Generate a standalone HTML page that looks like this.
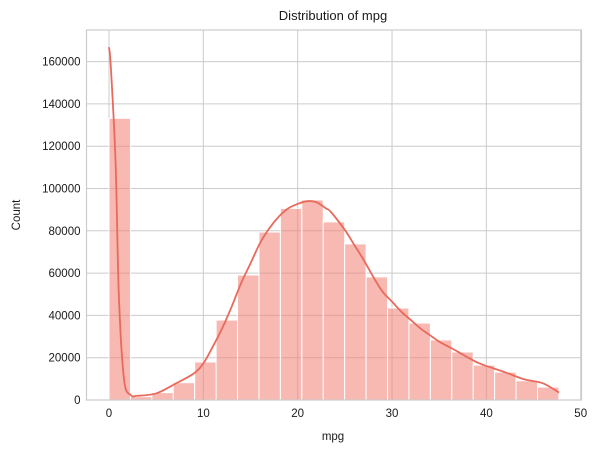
<!DOCTYPE html>
<html><head><meta charset="utf-8"><style>
body{margin:0;background:#fff;}
svg{display:block;font-family:"Liberation Sans","DejaVu Sans",sans-serif;}
</style></head><body>
<svg id="chart" width="598" height="453" viewBox="0 0 598 453">
<rect width="598" height="453" fill="#fff"/>
<g id="grid"></g><g id="bars"></g><g id="kde"></g><g id="axes"></g>
<text x="333" y="20" text-anchor="middle" font-size="13" fill="#1a1a1a">Distribution of mpg</text>
<text x="333" y="440" text-anchor="middle" font-size="11.5" fill="#1a1a1a">mpg</text>
<text transform="translate(20,215) rotate(-90)" text-anchor="middle" font-size="11.5" fill="#1a1a1a">Count</text>
</svg>
<script>
const binWidth = 2.271;
const counts = [133200,1600,3500,8200,18000,37800,59100,79400,90600,94600,84200,73800,58200,43500,36400,28400,22700,16500,13200,9100,6100];
const kdeX = [0,0.2,0.7,1.05,1.6,2.3,3,5,7,9,10,11,12,13,14,15,16,17,18,19,20,21,22,23,23.5,25,26,27,28,29,30,31,32,33,34,35,36,37,38,39,40,42,44,46,47.7];
const kdeY = [166800,157000,112000,48800,9500,2400,2000,3100,7600,12600,17300,25200,33900,44100,55200,64600,74100,81200,86700,90600,92700,94000,93500,90600,89000,80400,73300,66200,58300,51200,46500,41700,37800,33900,30700,27600,25200,22800,20200,17800,16100,13100,9800,7900,3500];
const xTicks = [0,10,20,30,40,50];
const yTicks = [0,20000,40000,60000,80000,100000,120000,140000,160000];

const L=86.5,R=581.5,T=30,B=400;
const x0=-2.385,x1=50.085;
const sx=v=>L+(v-x0)/(x1-x0)*(R-L);
const sy=v=>B-v/20000*42.3;
const NS='http://www.w3.org/2000/svg';
function mk(tag,attrs,parent){const e=document.createElementNS(NS,tag);for(const k in attrs)e.setAttribute(k,attrs[k]);parent.appendChild(e);return e;}
const grid=document.getElementById('grid'),bars=document.getElementById('bars'),kde=document.getElementById('kde'),axes=document.getElementById('axes');
xTicks.forEach(t=>{
  const l=mk('line',{x1:sx(t),x2:sx(t),y1:T,y2:B,stroke:'#cccccc','stroke-width':1},grid);
  
  
  const tx=mk('text',{x:sx(t),y:B+17,'text-anchor':'middle','font-size':11.5,fill:'#1a1a1a'},axes);
  tx.textContent=t;
  
  
});
yTicks.forEach(t=>{
  const l=mk('line',{x1:L,x2:R,y1:sy(t),y2:sy(t),stroke:'#cccccc','stroke-width':1},grid);
  
  
  const tx=mk('text',{x:L-6,y:sy(t)+4,'text-anchor':'end','font-size':11.5,fill:'#1a1a1a'},axes);
  tx.textContent=t;
  
  
});
counts.forEach((c,i)=>{
  const xa=sx(i*binWidth),xb=sx((i+1)*binWidth);
  const r=mk('rect',{x:xa,y:sy(c),width:xb-xa,height:B-sy(c),fill:'rgba(240,128,114,0.55)',stroke:'#fff','stroke-width':1},bars);
  
  
});
const pts=kdeX.map((v,i)=>[sx(v),sy(kdeY[i])]);
let d='M'+pts[0][0]+','+pts[0][1];
for(let i=0;i<pts.length-1;i++){
  const p0=pts[Math.max(0,i-1)],p1=pts[i],p2=pts[i+1],p3=pts[Math.min(pts.length-1,i+2)];
  const c1=[p1[0]+(p2[0]-p0[0])/6,p1[1]+(p2[1]-p0[1])/6];
  const c2=[p2[0]-(p3[0]-p1[0])/6,p2[1]-(p3[1]-p1[1])/6];
  d+=` C${c1[0]},${c1[1]} ${c2[0]},${c2[1]} ${p2[0]},${p2[1]}`;
}
const path=mk('path',{d:d,fill:'none',stroke:'#e96a5c','stroke-width':1.8},kde);


const frame=mk('rect',{x:L,y:T,width:R-L,height:B-T,fill:'none',stroke:'#cccccc','stroke-width':1.2},axes);


</script>
</body></html>
